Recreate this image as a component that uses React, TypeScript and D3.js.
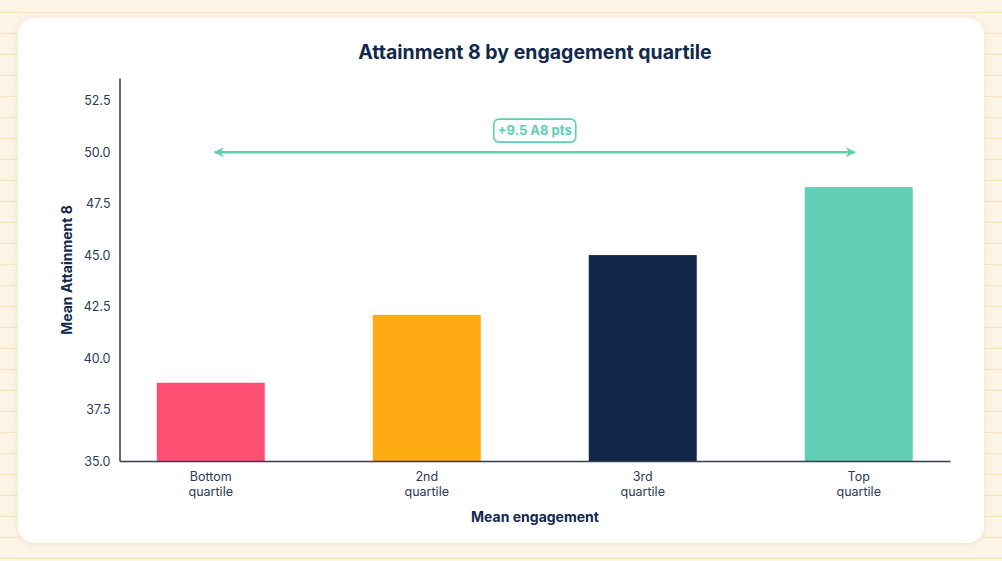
import { useEffect, useRef } from "react"
import * as d3 from "d3"

const categories = ["Bottom\nquartile", "2nd\nquartile", "3rd\nquartile", "Top\nquartile"]
const values = [38.8, 42.1, 45.0, 48.3]
const barColors = ["#FF4F72", "#FFAB14", "#12264A", "#60CFB6"]
const yTicks = [35, 37.5, 40, 42.5, 45, 47.5, 50, 52.5]
const yDomain = [35, 53.6]
const arrowValue = 50
const arrowLabel = "+9.5 A8 pts"

const W = 1002
const H = 561
const FONT = "Inter, 'Noto Sans', sans-serif"
const NAVY = "#13294B"

export default function App() {
  const svgRef = useRef<SVGSVGElement>(null)

  useEffect(() => {
    if (!svgRef.current) return
    const root = d3.select(svgRef.current)
    root.selectAll("*").remove()

    // Notebook-paper background
    root.append("rect").attr("width", W).attr("height", H).attr("fill", "#FCF4E6")
    d3.range(12.3, H, 21).forEach((y) => {
      root
        .append("line")
        .attr("x1", 0)
        .attr("x2", W)
        .attr("y1", y)
        .attr("y2", y)
        .attr("stroke", "#F8DFB2")
        .attr("stroke-width", 1)
    })

    // Card with soft shadow
    const defs = root.append("defs")
    const filter = defs
      .append("filter")
      .attr("id", "shadow")
      .attr("x", "-5%")
      .attr("y", "-5%")
      .attr("width", "110%")
      .attr("height", "110%")
    filter
      .append("feDropShadow")
      .attr("dx", 0)
      .attr("dy", 1)
      .attr("stdDeviation", 3)
      .attr("flood-color", "#E8D3AE")
      .attr("flood-opacity", 0.6)

    root
      .append("rect")
      .attr("x", 18)
      .attr("y", 18)
      .attr("width", 966)
      .attr("height", 525)
      .attr("rx", 16)
      .attr("fill", "#ffffff")
      .attr("filter", "url(#shadow)")

    const margin = { top: 78, right: 52, bottom: 100, left: 119.5 }
    const width = W - margin.left - margin.right
    const height = H - margin.top - margin.bottom

    const svg = root.append("g").attr("transform", `translate(${margin.left},${margin.top})`)

    const x = d3
      .scaleBand()
      .domain(categories)
      .range([0, width])
      .paddingInner(0.5)
      .paddingOuter(0.1725)

    const y = d3.scaleLinear().domain(yDomain).range([height, 0])

    // Bars
    svg
      .selectAll(".bar")
      .data(values)
      .enter()
      .append("rect")
      .attr("class", "bar")
      .attr("x", (_, i) => x(categories[i]) || 0)
      .attr("y", (d) => y(d))
      .attr("width", x.bandwidth())
      .attr("height", (d) => height - y(d))
      .attr("fill", (_, i) => barColors[i])

    // Y axis
    const yAxis = svg
      .append("g")
      .call(
        d3
          .axisLeft(y)
          .tickValues(yTicks)
          .tickSize(0)
          .tickPadding(9)
          .tickFormat((d) => d3.format(".1f")(d as number))
      )
    yAxis.select(".domain").attr("stroke", "#333D4D").attr("stroke-width", 1.5)
    yAxis
      .selectAll("text")
      .attr("fill", "#2B3A55")
      .attr("font-family", FONT)
      .attr("font-size", "12.5px")

    // X axis
    const xAxis = svg
      .append("g")
      .attr("transform", `translate(0,${height})`)
      .call(d3.axisBottom(x).tickSize(0).tickFormat(() => ""))
    xAxis.select(".domain").attr("stroke", "#333D4D").attr("stroke-width", 1.5)
    xAxis.selectAll(".tick text").remove()

    categories.forEach((c) => {
      const t = svg
        .append("text")
        .attr("x", (x(c) || 0) + x.bandwidth() / 2)
        .attr("y", height + 20)
        .attr("text-anchor", "middle")
        .attr("fill", "#2B3A55")
        .attr("font-family", FONT)
        .attr("font-size", "12.5px")
      c.split("\n").forEach((line, i) => {
        t.append("tspan")
          .attr("x", (x(c) || 0) + x.bandwidth() / 2)
          .attr("dy", i === 0 ? 0 : 15)
          .text(line)
      })
    })

    // Double arrow between bottom and top quartile
    const teal = "#5DCFB4"
    const marker = (id: string, orient: string) =>
      defs
        .append("marker")
        .attr("id", id)
        .attr("viewBox", "0 0 10 10")
        .attr("refX", 9)
        .attr("refY", 5)
        .attr("markerWidth", 4)
        .attr("markerHeight", 4)
        .attr("orient", orient)
        .append("path")
        .attr("d", "M0,0 L10,5 L0,10 L3,5 Z")
        .attr("fill", teal)
    marker("arrowEnd", "auto")
    marker("arrowStart", "auto-start-reverse")

    const xFirst = (x(categories[0]) || 0) + x.bandwidth() / 2 + 4
    const xLast = (x(categories[categories.length - 1]) || 0) + x.bandwidth() / 2 - 4
    svg
      .append("line")
      .attr("x1", xFirst)
      .attr("x2", xLast)
      .attr("y1", y(arrowValue))
      .attr("y2", y(arrowValue))
      .attr("stroke", teal)
      .attr("stroke-width", 2.5)
      .attr("marker-start", "url(#arrowStart)")
      .attr("marker-end", "url(#arrowEnd)")

    const midX = (xFirst + xLast) / 2
    svg
      .append("rect")
      .attr("x", midX - 41)
      .attr("y", y(arrowValue) - 33)
      .attr("width", 82)
      .attr("height", 23)
      .attr("rx", 5)
      .attr("fill", "#ffffff")
      .attr("stroke", teal)
      .attr("stroke-width", 1.6)
    svg
      .append("text")
      .attr("x", midX)
      .attr("y", y(arrowValue) - 17)
      .attr("text-anchor", "middle")
      .attr("fill", teal)
      .attr("font-family", FONT)
      .attr("font-weight", 700)
      .attr("font-size", "13px")
      .text(arrowLabel)

    // Title and axis titles
    root
      .append("text")
      .attr("x", 535)
      .attr("y", 59)
      .attr("text-anchor", "middle")
      .attr("fill", NAVY)
      .attr("font-family", FONT)
      .attr("font-weight", 700)
      .attr("font-size", "19.5px")
      .text("Attainment 8 by engagement quartile")

    root
      .append("text")
      .attr("x", 535)
      .attr("y", 522)
      .attr("text-anchor", "middle")
      .attr("fill", NAVY)
      .attr("font-family", FONT)
      .attr("font-weight", 700)
      .attr("font-size", "14px")
      .text("Mean engagement")

    root
      .append("text")
      .attr("transform", `translate(72,270) rotate(-90)`)
      .attr("text-anchor", "middle")
      .attr("fill", NAVY)
      .attr("font-family", FONT)
      .attr("font-weight", 700)
      .attr("font-size", "14px")
      .text("Mean Attainment 8")
  }, [])

  return (
    <svg
      ref={svgRef}
      width={W}
      height={H}
      style={{ position: "absolute", left: 0, top: 0, display: "block" }}
    />
  )
}
